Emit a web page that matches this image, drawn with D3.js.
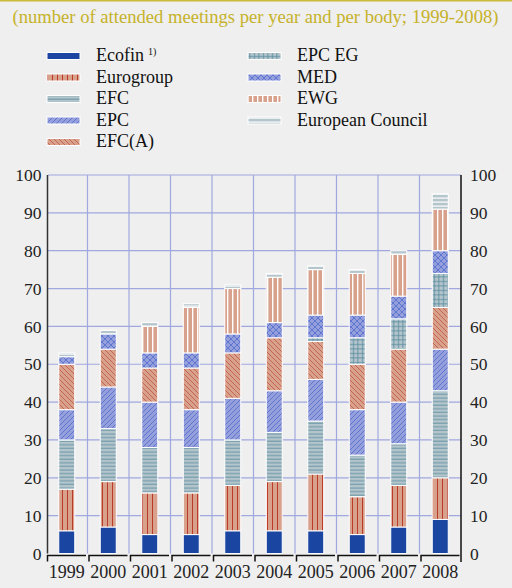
<!DOCTYPE html>
<html>
<head>
<meta charset="utf-8">
<script src="https://cdn.jsdelivr.net/npm/d3@7/dist/d3.min.js"></script>
<style>
  html, body { margin: 0; padding: 0; background: #efefef; }
  svg { display: block; }
  text { font-family: "Liberation Serif", "Times New Roman", serif; }
</style>
</head>
<body>
<svg id="chart" width="512" height="588"></svg>
<script>
// ---- data ----
const years = ["1999","2000","2001","2002","2003","2004","2005","2006","2007","2008"];
const seriesNames = ["Ecofin","Eurogroup","EFC","EPC","EFC(A)","EPC EG","MED","EWG","European Council"];
const ecofin    = [6, 7, 5, 5, 6, 6, 6, 5, 7, 9];
const eurogroup = [11, 12, 11, 11, 12, 13, 15, 10, 11, 11];
const efc       = [13, 14, 12, 12, 12, 13, 14, 11, 11, 23];
const epc       = [8, 11, 12, 10, 11, 11, 11, 12, 11, 11];
const efcA      = [12, 10, 9, 11, 12, 14, 10, 12, 14, 11];
const epcEG     = [0, 0, 0, 0, 0, 0, 1, 7, 8, 9];
const med       = [2, 4, 4, 4, 5, 4, 6, 6, 6, 6];
const ewg       = [0, 0, 7, 12, 12, 12, 12, 11, 11, 11];
const europeanCouncil = [1, 1, 1, 1, 1, 1, 1, 1, 1, 4];
const yTicks = [0,10,20,30,40,50,60,70,80,90,100];
const title = "(number of attended meetings per year and per body; 1999-2008)";

const seriesValues = [ecofin, eurogroup, efc, epc, efcA, epcEG, med, ewg, europeanCouncil];
const table = years.map((yr, i) => {
  const row = { year: yr };
  seriesNames.forEach((s, j) => row[s] = seriesValues[j][i]);
  return row;
});

// ---- styles ----
const salmon = "#d7a18c", lav = "#959fdc", grey = "#b5c5cc";
const red = "#bb3b2b", blue = "#3b5bc8", teal = "#5d8fa1";

const svg = d3.select("#chart");
const defs = svg.append("defs");

function pat(id, w, h, bg, draw) {
  const p = defs.append("pattern").attr("id", id).attr("patternUnits", "userSpaceOnUse")
    .attr("width", w).attr("height", h);
  p.append("rect").attr("width", w).attr("height", h).attr("fill", bg);
  draw(p);
}
pat("p-euro", 5, 5, salmon, p => p.append("rect").attr("x", 2).attr("y", 0).attr("width", 1).attr("height", 5).attr("fill", red));
pat("p-efc", 4, 3.6, grey, p => p.append("rect").attr("x", 0).attr("y", 1.5).attr("width", 4).attr("height", 0.9).attr("fill", teal));
pat("p-epc", 5, 5, lav, p => p.append("path").attr("d", "M-1,6 L6,-1 M-1,1 L1,-1 M4,6 L6,4").attr("stroke", blue).attr("stroke-width", 0.6));
pat("p-efca", 5, 5, salmon, p => p.append("path").attr("d", "M-1,-1 L6,6 M4,-1 L6,1 M-1,4 L1,6").attr("stroke", red).attr("stroke-width", 0.6));
pat("p-epceg", 4.5, 4.5, grey, p => {
  p.append("rect").attr("x", 0).attr("y", 2).attr("width", 4.5).attr("height", 0.9).attr("fill", teal);
  p.append("rect").attr("x", 2).attr("y", 0).attr("width", 0.9).attr("height", 4.5).attr("fill", teal);
});
pat("p-med", 6, 6, lav, p => p.append("path").attr("d", "M0,0 L6,6 M6,0 L0,6").attr("stroke", blue).attr("stroke-width", 0.6));
pat("p-ewg", 5, 5, salmon, p => p.append("rect").attr("x", 2).attr("y", 0).attr("width", 1.4).attr("height", 5).attr("fill", "#ffffff"));
pat("p-ec", 4, 4, grey, p => p.append("rect").attr("x", 0).attr("y", 1.5).attr("width", 4).attr("height", 1.2).attr("fill", "#ffffff"));

const fills = {
  "Ecofin": "#1a45a0",
  "Eurogroup": "url(#p-euro)",
  "EFC": "url(#p-efc)",
  "EPC": "url(#p-epc)",
  "EFC(A)": "url(#p-efca)",
  "EPC EG": "url(#p-epceg)",
  "MED": "url(#p-med)",
  "EWG": "url(#p-ewg)",
  "European Council": "url(#p-ec)"
};

// ---- top rule and title ----
svg.append("line").attr("x1", 0).attr("x2", 512).attr("y1", 0.75).attr("y2", 0.75)
  .attr("stroke", "#cbb93a").attr("stroke-width", 1.5);
svg.append("text").attr("x", 255.5).attr("y", 23).attr("text-anchor", "middle")
  .attr("font-size", 18.6).attr("fill", "#c6b22a").text(title);

// ---- legend ----
const legend = svg.append("g");
seriesNames.forEach((name, i) => {
  const col = i < 5 ? 0 : 1;
  const row = i < 5 ? i : i - 5;
  const sx = col === 0 ? 47 : 248;
  const by = 61 + row * 21.5;
  legend.append("rect").attr("x", sx).attr("y", by - 8.5).attr("width", 33).attr("height", 7)
    .attr("fill", fills[name]).attr("stroke", "#ffffff").attr("stroke-width", 1);
  const t = legend.append("text").attr("x", sx + 49).attr("y", by)
    .attr("font-size", 18).attr("fill", "#111").text(name);
  if (name === "Ecofin") {
    t.append("tspan").attr("dx", 4).attr("dy", -6).attr("font-size", 10).text("1)");
  }
});

// ---- scales ----
const x = d3.scaleBand().domain(years).range([46, 461]);
const y = d3.scaleLinear().domain([0, 100]).range([553.5, 175]);
const barW = 16;

// ---- grid ----
const grid = svg.append("g");
grid.selectAll("line.h").data(yTicks.slice(1)).join("line").attr("class", "h")
  .attr("x1", 48).attr("x2", 461).attr("y1", d => y(d)).attr("y2", d => y(d))
  .attr("stroke", "#a0a8df").attr("stroke-width", 1.2);
grid.selectAll("line.v").data(years.slice(1)).join("line").attr("class", "v")
  .attr("x1", d => x(d)).attr("x2", d => x(d)).attr("y1", y(100)).attr("y2", y(0))
  .attr("stroke", "#a0a8df").attr("stroke-width", 1.2);

// ---- bars ----
const stack = d3.stack().keys(seriesNames)(table);
svg.append("g").selectAll("g").data(stack).join("g")
  .attr("fill", d => fills[d.key])
  .selectAll("rect").data(d => d.filter(s => s[1] - s[0] > 0)).join("rect")
  .attr("x", d => x(d.data.year) + x.bandwidth() / 2 - barW / 2)
  .attr("y", d => y(d[1]))
  .attr("width", barW)
  .attr("height", d => y(d[0]) - y(d[1]))
  .attr("stroke", "#ffffff").attr("stroke-width", 1);

// ---- axes ----
const leftAxis = svg.append("g").attr("transform", "translate(47.5,0)")
  .call(d3.axisLeft(y).tickValues(yTicks).tickSize(0).tickPadding(6));
leftAxis.attr("font-family", null);
leftAxis.select(".domain").remove();
leftAxis.selectAll("text").attr("font-size", 17.5).attr("fill", "#222");
svg.append("line").attr("x1", 47.5).attr("x2", 47.5).attr("y1", y(100)).attr("y2", y(0))
  .attr("stroke", "#333").attr("stroke-width", 1.5);

const rightAxis = svg.append("g").attr("transform", "translate(461,0)")
  .call(d3.axisRight(y).tickValues(yTicks).tickSize(0).tickPadding(9));
rightAxis.attr("font-family", null);
rightAxis.select(".domain").remove();
rightAxis.selectAll("text").attr("font-size", 17.5).attr("fill", "#222");
svg.append("line").attr("x1", 461).attr("x2", 461).attr("y1", y(100)).attr("y2", 562)
  .attr("stroke", "#111").attr("stroke-width", 1.5);

// bottom bracket axis
const bottom = svg.append("g");
bottom.selectAll("path").data(years).join("path")
  .attr("d", d => {
    const x0 = x(d) + 1.5, x1 = x(d) + x.bandwidth() - 1.5;
    return `M${x0},561.5 L${x0},555.5 L${x1},555.5`;
  })
  .attr("fill", "none").attr("stroke", "#111").attr("stroke-width", 1.5);
bottom.selectAll("text").data(years).join("text")
  .attr("x", d => x(d) + x.bandwidth() / 2).attr("y", 578)
  .attr("text-anchor", "middle").attr("font-size", 18).attr("fill", "#222").text(d => d);
</script>
</body>
</html>
